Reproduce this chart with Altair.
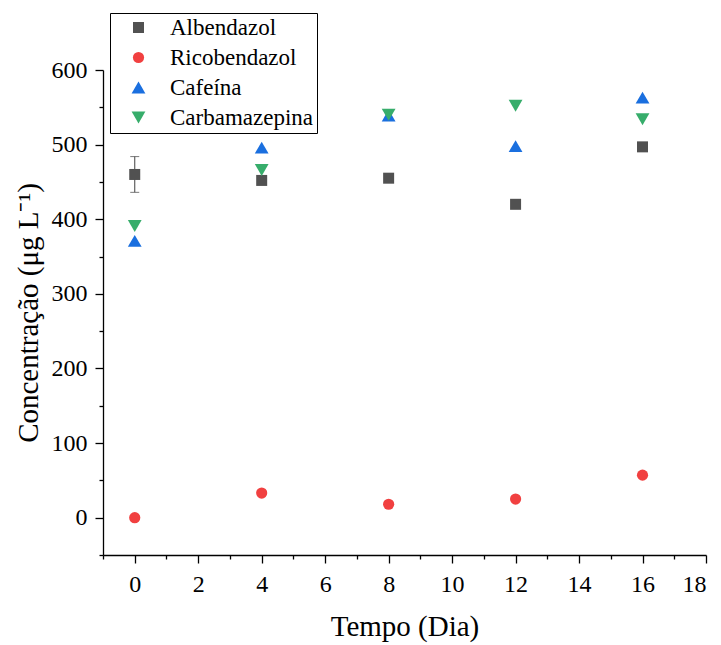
import altair as alt
import pandas as pd

# ---- data ----
days = [0, 4, 8, 12, 16]
series_names = ["Albendazol", "Ricobendazol", "Cafeína", "Carbamazepina"]
albendazol = [460, 452, 455, 420, 497]
albendazol_err = [24, 0, 0, 0, 0]
ricobendazol = [0, 33, 18, 25, 57]
cafeina = [371, 496, 539, 498, 563]
carbamazepina = [391, 466, 540, 552, 534]

colors = ["#515151", "#F14040", "#1A6FDF", "#37AD6B"]
shapes = ["square", "circle", "triangle-up", "triangle-down"]
sizes = [121, 125, 190, 190]

x_major = [0, 2, 4, 6, 8, 10, 12, 14, 16, 18]
x_minor = [-1, 1, 3, 5, 7, 9, 11, 13, 15, 17]
y_major = [0, 100, 200, 300, 400, 500, 600]
y_minor = [-50, 50, 150, 250, 350, 450, 550]

FONT = "Liberation Serif"

rows = []
for name, vals in zip(series_names, [albendazol, ricobendazol, cafeina, carbamazepina]):
    for d, v in zip(days, vals):
        rows.append({"Dia": d, "Conc": v, "Serie": name})
df = pd.DataFrame(rows)

err = pd.DataFrame({"Dia": days, "Conc": albendazol, "err": albendazol_err})
err = err[err["err"] > 0].copy()
err["lo"] = err["Conc"] - err["err"]
err["hi"] = err["Conc"] + err["err"]

xscale = alt.Scale(domain=[-1, 18], nice=False, zero=False)
yscale = alt.Scale(domain=[-50, 600], nice=False, zero=False)

common_axis = dict(
    grid=False, domainColor="black", domainWidth=1.3, tickColor="black",
    tickWidth=1.3, labelFont=FONT, labelColor="black", titleFont=FONT,
    titleColor="black", titleFontWeight="normal",
)

x_axis = alt.Axis(orient="bottom", values=x_major, tickSize=8, labelFontSize=24, labelPadding=9,
                  title="Tempo (Dia)", titleFontSize=29, titlePadding=16,
                  **common_axis)
y_axis = alt.Axis(orient="left", values=y_major, tickSize=8, labelFontSize=24, labelPadding=8,
                  title="Concentração (μg L⁻¹)", titleFontSize=29, titlePadding=8,
                  **common_axis)

x_axis_minor = alt.Axis(orient="bottom", values=x_minor, tickSize=4, labels=False, domain=False,
                        title=None, grid=False, tickColor="black", tickWidth=1.3)
y_axis_minor = alt.Axis(orient="left", values=y_minor, tickSize=4, labels=False, domain=False,
                        title=None, grid=False, tickColor="black", tickWidth=1.3)

legend = alt.Legend(
    orient="none", legendX=7, legendY=-57, title=None,
    strokeColor="black", padding=3, fillColor="white",
    labelFont=FONT, labelFontSize=23, labelColor="black",
    symbolOffset=14, labelOffset=20, rowPadding=6,
    symbolStrokeWidth=0, symbolOpacity=1,
)

points = alt.Chart(df).mark_point(filled=True, opacity=1, strokeWidth=0).encode(
    x=alt.X("Dia:Q", scale=xscale, axis=x_axis),
    y=alt.Y("Conc:Q", scale=yscale, axis=y_axis),
    color=alt.Color("Serie:N", scale=alt.Scale(domain=series_names, range=colors), legend=legend),
    shape=alt.Shape("Serie:N", scale=alt.Scale(domain=series_names, range=shapes), legend=legend),
    size=alt.Size("Serie:N", scale=alt.Scale(type="ordinal", domain=series_names, range=sizes), legend=legend),
    order=alt.Order("order:Q"),
).transform_calculate(
    order="indexof(['Albendazol','Ricobendazol','Cafeína','Carbamazepina'], datum.Serie)"
)

minor = alt.Chart(df).mark_point(opacity=0).encode(
    x=alt.X("Dia:Q", scale=xscale, axis=x_axis_minor),
    y=alt.Y("Conc:Q", scale=yscale, axis=y_axis_minor),
)

err_rule = alt.Chart(err).mark_rule(color="#515151", strokeWidth=1.1).encode(
    x=alt.X("Dia:Q", scale=xscale, axis=None),
    y=alt.Y("lo:Q", scale=yscale, axis=None),
    y2="hi:Q",
)
err_caps_lo = alt.Chart(err).mark_tick(orient="horizontal", color="#515151", size=9, thickness=1.1).encode(
    x=alt.X("Dia:Q", scale=xscale, axis=None),
    y=alt.Y("lo:Q", scale=yscale, axis=None),
)
err_caps_hi = alt.Chart(err).mark_tick(orient="horizontal", color="#515151", size=9, thickness=1.1).encode(
    x=alt.X("Dia:Q", scale=xscale, axis=None),
    y=alt.Y("hi:Q", scale=yscale, axis=None),
)

chart = alt.layer(minor, err_rule, err_caps_lo, err_caps_hi, points).resolve_axis(
    x="independent", y="independent"
).properties(
    width=603, height=485,
    autosize=alt.AutoSizeParams(type="none"),
    padding={"left": 103, "top": 70, "right": 15, "bottom": 90},
    background="white",
).configure(font=FONT).configure_view(stroke=None).configure_legend(
    strokeWidth=1, labelFont=FONT
).configure_axis(labelFont=FONT, titleFont=FONT)

chart.save("out.html", embed_options={"renderer": "svg", "actions": False})
